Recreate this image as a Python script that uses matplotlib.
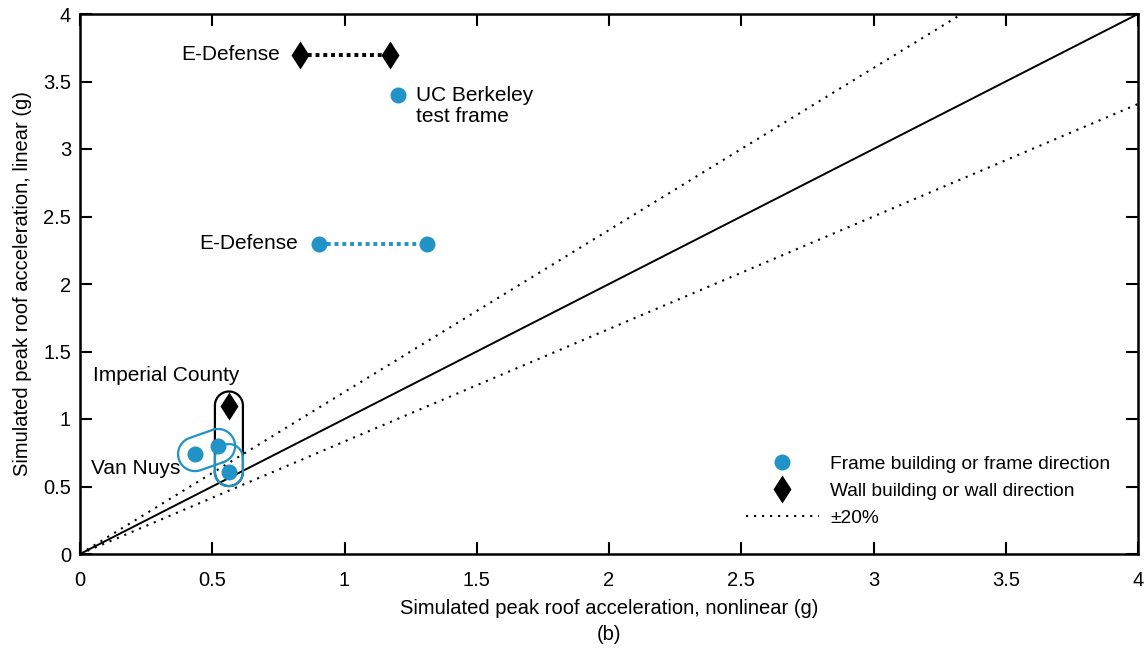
import numpy as np
import matplotlib.pyplot as plt
from matplotlib.lines import Line2D

plt.rcParams['font.family'] = ['Liberation Sans', 'DejaVu Sans']
FS = 14.5
FS_NOTE = 15
FS_LEG = 13.8

BLUE = '#2193c7'

# frame buildings / frame direction (circles)
frame_names = ['E-Defense', 'E-Defense', 'UC Berkeley', 'Van Nuys', 'Van Nuys', 'Imperial County']
frame_nl = [0.904, 1.312, 1.202, 0.435, 0.522, 0.563]
frame_lin = [2.30, 2.30, 3.40, 0.74, 0.80, 0.607]

# wall buildings / wall direction (diamonds)
wall_names = ['E-Defense', 'E-Defense', 'Imperial County']
wall_nl = [0.832, 1.172, 0.563]
wall_lin = [3.70, 3.70, 1.10]

ticks = [0, 0.5, 1, 1.5, 2, 2.5, 3, 3.5, 4]
tick_labels = ['0', '0.5', '1', '1.5', '2', '2.5', '3', '3.5', '4']
band = 1.2  # +/-20%
DOT = (0, (1, 2.85))


def capsule(ax, p1, p2, r, color, lw=1.6, up=0.0, z=4):
    """Draw a rounded outline around two data points, radius r in pixels."""
    a, b = ax.transData.transform([p1, p2])
    b = b + np.array([0, up])
    d = b - a
    ang = np.arctan2(d[1], d[0]) if np.hypot(*d) > 0 else np.pi / 2
    t1 = np.linspace(ang - np.pi / 2, ang + np.pi / 2, 40)
    t2 = np.linspace(ang + np.pi / 2, ang + 3 * np.pi / 2, 40)
    pts = np.vstack([b + r * np.c_[np.cos(t1), np.sin(t1)],
                     a + r * np.c_[np.cos(t2), np.sin(t2)]])
    pts = np.vstack([pts, pts[:1]])
    dat = ax.transData.inverted().transform(pts)
    ax.plot(dat[:, 0], dat[:, 1], color=color, lw=lw, zorder=z)


fig = plt.figure(figsize=(11.48, 6.52), dpi=100)
ax = fig.add_axes([80 / 1148, 1 - 554 / 652, 1058 / 1148, 540 / 652])
ax.set_xlim(0, 4)
ax.set_ylim(0, 4)

# 1:1 line and +/-20% band
xs = np.array([0, 4])
ax.plot(xs, xs, color='black', lw=1.4, zorder=2)
ax.plot(xs, xs * band, color='black', lw=1.5, ls=DOT, zorder=2)
ax.plot(xs, xs / band, color='black', lw=1.5, ls=DOT, zorder=2)

# E-Defense connectors
ax.plot(frame_nl[:2], frame_lin[:2], color=BLUE, lw=2.8, ls=(0, (1, 1)), zorder=3)
ax.plot(wall_nl[:2], wall_lin[:2], color='black', lw=2.8, ls=(0, (1, 1)), zorder=3)

ax.plot(frame_nl, frame_lin, 'o', color=BLUE, ms=11.5, mec='none', zorder=6)
ax.plot(wall_nl, wall_lin, 'd', color='black', ms=14.5, mec='none', zorder=6)

# group outlines
capsule(ax, (wall_nl[2], wall_lin[2]), (frame_nl[5], frame_lin[5]), 14, 'black')
capsule(ax, (frame_nl[5], frame_lin[5]), (frame_nl[5], frame_lin[5]), 14, BLUE, up=14)
capsule(ax, (frame_nl[3], frame_lin[3]), (frame_nl[4], frame_lin[4]), 17, BLUE)

# labels
ax.text(0.755, 3.70, 'E-Defense', ha='right', va='center', fontsize=FS_NOTE)
ax.text(1.27, 3.32, 'UC Berkeley\ntest frame', ha='left', va='center',
        linespacing=1.1, fontsize=FS_NOTE)
ax.text(0.825, 2.30, 'E-Defense', ha='right', va='center', fontsize=FS_NOTE)
ax.text(0.05, 1.32, 'Imperial County', ha='left', va='center', fontsize=FS_NOTE)
ax.text(0.04, 0.63, 'Van Nuys', ha='left', va='center', fontsize=FS_NOTE)

ax.set_xticks(ticks)
ax.set_xticklabels(tick_labels)
ax.set_yticks(ticks)
ax.set_yticklabels(tick_labels)
ax.tick_params(direction='in', length=8.5, width=1.5, top=True, right=True,
               labelsize=FS)
ax.tick_params(axis='x', pad=12)
ax.tick_params(axis='y', pad=6.5)
for s in ax.spines.values():
    s.set_linewidth(1.8)

ax.set_xlabel('Simulated peak roof acceleration, nonlinear (g)', fontsize=FS, labelpad=7)
ax.set_ylabel('Simulated peak roof acceleration, linear (g)', fontsize=FS, labelpad=8)
fig.text(609 / 1148, 1 - 635 / 652, '(b)', ha='center', va='center', fontsize=FS)

handles = [
    Line2D([], [], ls='none', marker='o', color=BLUE, ms=11.5, mec='none'),
    Line2D([], [], ls='none', marker='d', color='black', ms=14.5, mec='none'),
    Line2D([], [], color='black', lw=1.5, ls=DOT),
]
ax.legend(handles, ['Frame building or frame direction', 'Wall building or wall direction',
                    '\u00b120%'],
          loc='lower right', bbox_to_anchor=(0.99, 0.018), frameon=False,
          handlelength=3.8, handletextpad=0.6, labelspacing=0.5, fontsize=FS_LEG)

fig.savefig('out.png', dpi=100)
